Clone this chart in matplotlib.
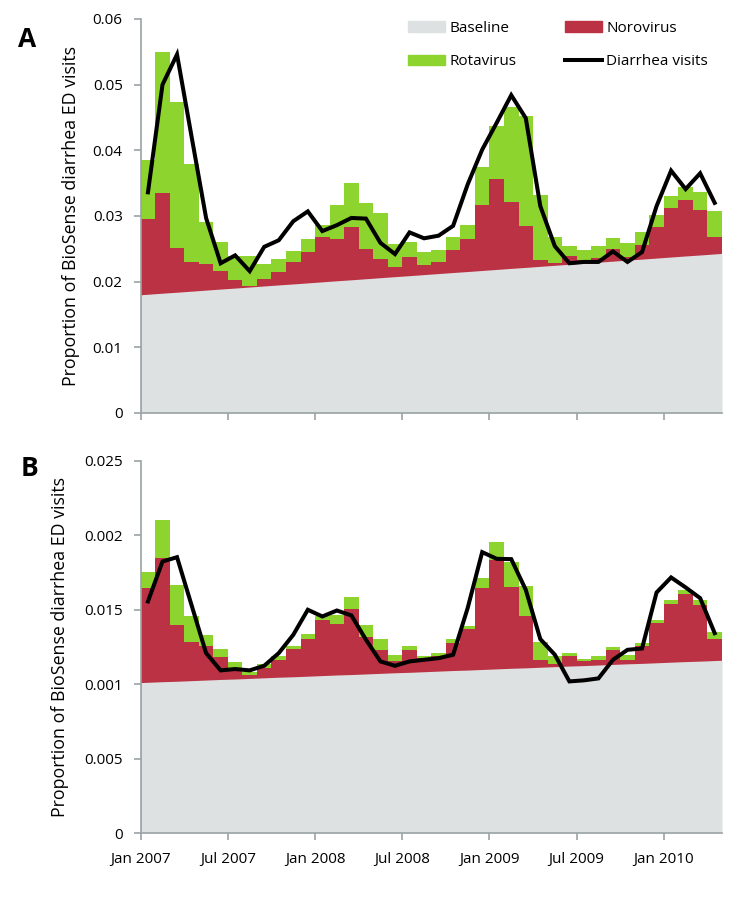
import numpy as np
import matplotlib
matplotlib.use("Agg")
import matplotlib.pyplot as plt
from matplotlib.patches import Patch
from matplotlib.lines import Line2D

plt.rcParams['font.family'] = ['Open Sans', 'DejaVu Sans']

# ---------------- data ----------------
month_ticks = ['Jan 2007', 'Jul 2007', 'Jan 2008', 'Jul 2008',
               'Jan 2009', 'Jul 2009', 'Jan 2010']

# Panel A
baseline_a = [0.01808, 0.01824, 0.01839, 0.01855, 0.01871, 0.01887, 0.01902, 0.01918,
              0.01934, 0.01950, 0.01965, 0.01981, 0.01997, 0.02013, 0.02028, 0.02044,
              0.02060, 0.02076, 0.02091, 0.02107, 0.02123, 0.02139, 0.02154, 0.02170,
              0.02186, 0.02202, 0.02217, 0.02233, 0.02249, 0.02265, 0.02280, 0.02296,
              0.02312, 0.02328, 0.02343, 0.02359, 0.02375, 0.02391, 0.02406, 0.02422]
noro_a = [0.0115, 0.0152, 0.0068, 0.0045, 0.0040, 0.0027, 0.0012, 0.0002,
          0.0011, 0.0020, 0.0033, 0.0047, 0.0069, 0.0063, 0.0081, 0.0045,
          0.0028, 0.0014, 0.0028, 0.0015, 0.0018, 0.0034, 0.0050, 0.0100,
          0.0137, 0.0101, 0.0063, 0.0009, 0.0003, 0.0012, 0.0005, 0.0006,
          0.0018, 0.0005, 0.0021, 0.0048, 0.0074, 0.0085, 0.0069, 0.0026]
rota_a = [0.0090, 0.0215, 0.0221, 0.0149, 0.0064, 0.0044, 0.0037, 0.0045,
          0.0022, 0.0020, 0.0017, 0.0020, 0.0017, 0.0052, 0.0067, 0.0070,
          0.0070, 0.0035, 0.0024, 0.0020, 0.0018, 0.0020, 0.0021, 0.0058,
          0.0081, 0.0145, 0.0168, 0.0099, 0.0040, 0.0016, 0.0015, 0.0019,
          0.0017, 0.0021, 0.0020, 0.0017, 0.0019, 0.0020, 0.0027, 0.0039]
visits_a = [0.0336, 0.0500, 0.0546, 0.0421, 0.0297, 0.0228, 0.0240, 0.0216,
            0.0253, 0.0263, 0.0292, 0.0307, 0.0277, 0.0286, 0.0297, 0.0296,
            0.0259, 0.0242, 0.0275, 0.0266, 0.0270, 0.0285, 0.0348, 0.0401,
            0.0442, 0.0484, 0.0449, 0.0315, 0.0254, 0.0228, 0.0230, 0.0230,
            0.0246, 0.0230, 0.0245, 0.0315, 0.0369, 0.0341, 0.0365, 0.0320]
yticks_a = [0, 0.01, 0.02, 0.03, 0.04, 0.05, 0.06]
yticklabels_a = ['0', '0.01', '0.02', '0.03', '0.04', '0.05', '0.06']

# Panel B
baseline_b = [0.01012, 0.01016, 0.01019, 0.01023, 0.01027, 0.01031, 0.01034, 0.01038,
              0.01042, 0.01046, 0.01049, 0.01053, 0.01057, 0.01061, 0.01064, 0.01068,
              0.01072, 0.01076, 0.01079, 0.01083, 0.01087, 0.01091, 0.01094, 0.01098,
              0.01102, 0.01106, 0.01109, 0.01113, 0.01117, 0.01121, 0.01124, 0.01128,
              0.01132, 0.01136, 0.01139, 0.01143, 0.01147, 0.01151, 0.01154, 0.01158]
noro_b = [0.00630, 0.00830, 0.00377, 0.00257, 0.00226, 0.00150, 0.00067, 0.00020,
          0.00065, 0.00113, 0.00186, 0.00251, 0.00375, 0.00342, 0.00442, 0.00245,
          0.00154, 0.00076, 0.00151, 0.00091, 0.00103, 0.00184, 0.00275, 0.00546,
          0.00728, 0.00549, 0.00350, 0.00050, 0.00019, 0.00065, 0.00028, 0.00035,
          0.00094, 0.00027, 0.00114, 0.00266, 0.00392, 0.00455, 0.00378, 0.00144]
rota_b = [0.00110, 0.00257, 0.00266, 0.00179, 0.00078, 0.00056, 0.00044, 0.00022,
          0.00027, 0.00027, 0.00022, 0.00029, 0.00022, 0.00062, 0.00082, 0.00085,
          0.00080, 0.00045, 0.00027, 0.00016, 0.00018, 0.00027, 0.00022, 0.00067,
          0.00121, 0.00168, 0.00201, 0.00119, 0.00050, 0.00022, 0.00018, 0.00027,
          0.00022, 0.00032, 0.00022, 0.00018, 0.00027, 0.00027, 0.00030, 0.00045]
visits_b = [0.01555, 0.01823, 0.01852, 0.01530, 0.01208, 0.01092, 0.01101, 0.01092,
            0.01123, 0.01208, 0.01331, 0.01499, 0.01454, 0.01494, 0.01461, 0.01298,
            0.01152, 0.01123, 0.01152, 0.01163, 0.01174, 0.01197, 0.01510, 0.01886,
            0.01841, 0.01839, 0.01633, 0.01302, 0.01197, 0.01018, 0.01025, 0.01038,
            0.01163, 0.01230, 0.01239, 0.01615, 0.01716, 0.01649, 0.01577, 0.01342]
yticks_b = [0, 0.005, 0.010, 0.015, 0.020, 0.025]
yticklabels_b = ['0', '0.005', '0.001', '0.015', '0.002', '0.025']

# ---------------- style ----------------
C_BASE = '#dde1e1'
C_NORO = '#bb3244'
C_ROTA = '#8dd42f'
C_AXIS = '#9aa3a6'
FS = 11

fig = plt.figure(figsize=(7.5, 9.09), dpi=100)
axA = fig.add_axes([0.1876, 0.5457, 0.775, 0.4334])
axB = fig.add_axes([0.1876, 0.0836, 0.775, 0.4096])


def draw(ax, base, noro, rota, visits, yt, ytl, ymax, show_x):
    base = np.array(base)
    noro = np.array(noro)
    rota = np.array(rota)
    n = len(base)
    edges = np.arange(n + 1)
    red_top = base + noro
    green_top = red_top + rota
    ax.fill_between(edges, np.append(green_top, green_top[-1]), 0,
                    step='post', color=C_ROTA, lw=0)
    ax.fill_between(edges, np.append(red_top, red_top[-1]), 0,
                    step='post', color=C_NORO, lw=0)
    centers = np.arange(n) + 0.5
    bx = np.concatenate([[0], centers, [n]])
    by = np.concatenate([[base[0] - (base[1] - base[0]) / 2], base,
                         [base[-1] + (base[-1] - base[-2]) / 2]])
    ax.fill_between(bx, by, 0, color=C_BASE, lw=0)
    ax.plot(centers, visits, color='black', lw=2.9, solid_joinstyle='miter')

    ax.set_xlim(0, n)
    ax.set_ylim(0, ymax)
    ax.set_yticks(yt)
    ax.set_yticklabels(ytl, fontsize=FS)
    ax.set_xticks(np.arange(0, n, 6))
    if show_x:
        ax.set_xticklabels(month_ticks, fontsize=FS)
    else:
        ax.set_xticklabels([])
    for s in ['top', 'right']:
        ax.spines[s].set_visible(False)
    for s in ['left', 'bottom']:
        ax.spines[s].set_color(C_AXIS)
        ax.spines[s].set_linewidth(1.2)
    ax.tick_params(axis='both', colors=C_AXIS, length=5, width=1.2, labelcolor='black')
    ax.tick_params(axis='y', pad=8)
    ax.tick_params(axis='x', pad=9)
    ax.set_ylabel('Proportion of BioSense diarrhea ED visits', fontsize=12.8)


draw(axA, baseline_a, noro_a, rota_a, visits_a, yticks_a, yticklabels_a, 0.06, False)
draw(axB, baseline_b, noro_b, rota_b, visits_b, yticks_b, yticklabels_b, 0.025, True)
axA.yaxis.set_label_coords(-0.105, 0.5)
axB.yaxis.set_label_coords(-0.124, 0.5)

handles = [Patch(color=C_BASE, label='Baseline'),
           Patch(color=C_ROTA, label='Rotavirus'),
           Patch(color=C_NORO, label='Norovirus'),
           Line2D([], [], color='black', lw=2.9, label='Diarrhea visits')]
axA.legend(handles=handles, ncol=2, loc='upper right', bbox_to_anchor=(1.0, 1.03),
           frameon=False, fontsize=FS, handlelength=2.4, handleheight=0.7,
           handletextpad=0.3, columnspacing=3.2, labelspacing=1.2)

fig.text(0.024, 0.948, 'A', fontsize=19, fontweight='bold')
fig.text(0.027, 0.476, 'B', fontsize=19, fontweight='bold')

fig.savefig('out.png', dpi=100)
